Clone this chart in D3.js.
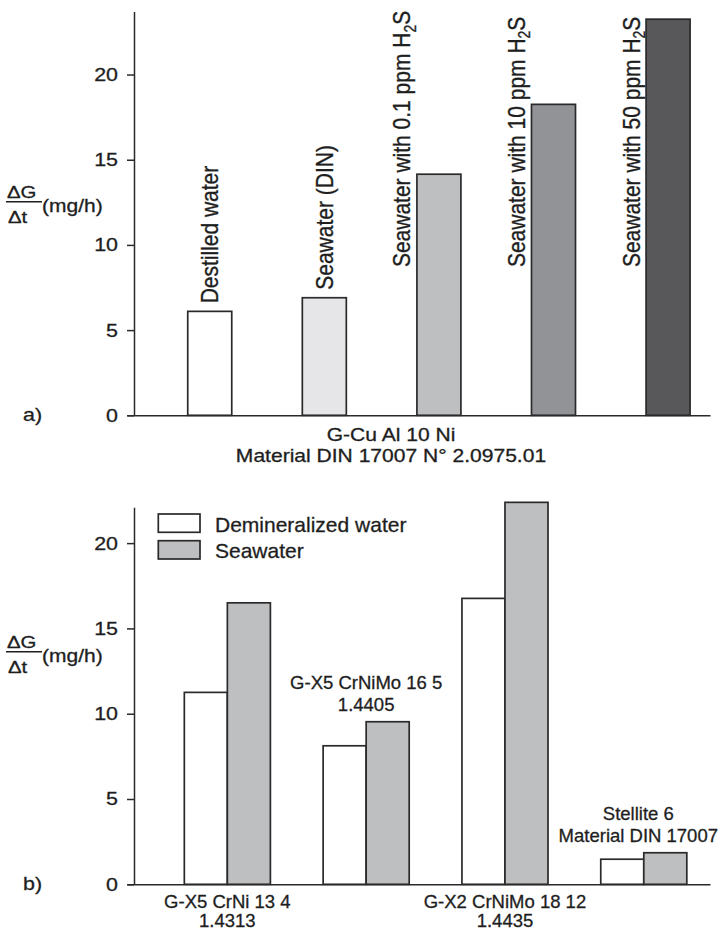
<!DOCTYPE html>
<html><head><meta charset="utf-8">
<script src="https://cdn.jsdelivr.net/npm/d3@7"></script>
<style>
body{margin:0;background:#fff}
svg{display:block}
text{font-family:"Liberation Sans",Arial,Helvetica,sans-serif;fill:#1e1e1e;stroke:#1e1e1e;stroke-width:0.3px}
</style>
</head><body>
<svg id="c" width="719" height="930"></svg>
<script>
// ---------- DATA ----------
const topCategories = ["Destilled water", "Seawater (DIN)", "Seawater with 0.1 ppm H2S", "Seawater with 10 ppm H2S", "Seawater with 50 ppm H2S"];
const topValues = [6.1, 6.9, 14.15, 18.25, 23.25];
const topColors = ["#ffffff", "#e6e6e8", "#bebfc1", "#929397", "#58585b"];
const topTicks = [0, 5, 10, 15, 20];
const topMaterial = ["G-Cu Al 10 Ni", "Material DIN 17007 N\u00B0 2.0975.01"];

const groupNames = ["G-X5 CrNi 13 4", "G-X5 CrNiMo 16 5", "G-X2 CrNiMo 18 12", "Stellite 6"];
const groupCodes = ["1.4313", "1.4405", "1.4435", "Material DIN 17007"];
const seriesNames = ["Demineralized water", "Seawater"];
const demineralized = [11.25, 8.12, 16.76, 1.47];
const seawater = [16.5, 9.53, 22.39, 1.85];
const seriesColors = ["#ffffff", "#bebfc1"];
const bottomTicks = [0, 5, 10, 15, 20];

const yLabel = ["\u0394G", "\u0394t", "(mg/h)"];
const panelLabels = ["a)", "b)"];

// ---------- HELPERS ----------
const svg = d3.select("#c");
const STRETCH = 1.16;
const ink = "#2a2a2a";

function stxt(g, x, y, str, size, anchor, sx) {
  return g.append("text")
    .attr("transform", `translate(${x},${y}) scale(${sx || STRETCH},1)`)
    .attr("text-anchor", anchor || "start")
    .style("font-size", size + "px")
    .text(str);
}

function yAxis(g, scale, ticks) {
  g.call(d3.axisLeft(scale).tickValues(ticks).tickSize(7).tickSizeOuter(0).tickPadding(9));
  g.select(".domain").attr("stroke", ink).attr("stroke-width", 1.5);
  g.selectAll(".tick line").attr("stroke", ink).attr("stroke-width", 1.5);
  g.selectAll(".tick text").each(function () {
    const t = d3.select(this);
    const x = +t.attr("x");
    t.attr("x", 0).attr("transform", `translate(${x},0) scale(${STRETCH},1)`)
      .style("font-size", "18.5px").attr("fill", "#1e1e1e");
  });
  g.attr("font-family", null).attr("font-size", null);
}

function xAxisLine(g, scale) {
  g.call(d3.axisBottom(scale).tickSize(0).tickSizeOuter(0).tickFormat(""));
  g.selectAll(".tick").remove();
  g.select(".domain").attr("stroke", ink).attr("stroke-width", 1.5);
}

function fractionLabel(fracY) {
  const g = svg.append("g");
  g.append("line").attr("x1", 6).attr("x2", 42).attr("y1", fracY).attr("y2", fracY)
    .attr("stroke", "#1e1e1e").attr("stroke-width", 1.4);
  stxt(g, 7, fracY - 3.4, yLabel[0], 17, "start", 1.2);
  stxt(g, 8, fracY + 21.5, yLabel[1], 17, "start", 1.2);
  stxt(g, 42, fracY + 10, yLabel[2], 17.5, "start", 1.2);
}

// ---------- TOP CHART ----------
const AX = 134;
const yTop = d3.scaleLinear().domain([0, 23.7]).range([415.3, 11.5]);
const xTop = d3.scaleBand().domain(topCategories).range([127, 710])
  .paddingInner(0.616).paddingOuter(0.352).align(0.753);

xAxisLine(svg.append("g").attr("transform", `translate(0,${yTop(0)})`), xTop);

svg.append("g").selectAll("rect").data(topCategories).join("rect")
  .attr("x", d => xTop(d))
  .attr("y", (d, i) => yTop(topValues[i]))
  .attr("width", xTop.bandwidth())
  .attr("height", (d, i) => yTop(0) - yTop(topValues[i]))
  .attr("fill", (d, i) => topColors[i])
  .attr("stroke", ink).attr("stroke-width", 1.7);

yAxis(svg.append("g").attr("transform", `translate(${AX},0)`), yTop, topTicks);

// rotated bar labels
topCategories.forEach((c, i) => {
  const t = svg.append("text").style("font-size", "21px");
  const m = c.match(/^(.*H)2(S)$/);
  if (m) {
    t.append("tspan").text(m[1]);
    t.append("tspan").text("2").style("font-size", "14px").attr("dy", 4.5);
    t.append("tspan").text(m[2]).attr("dy", -4.5);
  } else {
    t.text(c);
  }
  const len = t.node().getComputedTextLength();
  const top = yTop(topValues[i]);
  let bx, sy;
  if (top - 8 - len >= 0) {
    bx = xTop(c) + xTop.bandwidth() / 2 + 8.5;
    sy = top - 8;
  } else {
    bx = xTop(c) - 6.5;
    sy = yTop(8.7);
  }
  t.attr("transform", `translate(${bx},${sy}) scale(1.18,1) rotate(-90)`);
});

stxt(svg, 391, 441, topMaterial[0], 18, "middle", 1.17);
stxt(svg, 391, 461.7, topMaterial[1], 18, "middle", 1.17);
stxt(svg, 23, yTop(0) + 6, panelLabels[0], 18.5, "start");
fractionLabel(201.7);

// ---------- BOTTOM CHART ----------
const yBot = d3.scaleLinear().domain([0, 22.1]).range([884.3, 507.3]);
const xBot = d3.scaleBand().domain(groupNames).range([127, 710])
  .paddingInner(0.38).paddingOuter(0.29).align(0.712);
const xSub = d3.scaleBand().domain(seriesNames).range([0, xBot.bandwidth()]);
const seriesValues = [demineralized, seawater];

xAxisLine(svg.append("g").attr("transform", `translate(0,${yBot(0)})`), xBot);

seriesNames.forEach((s, si) => {
  svg.append("g").selectAll("rect").data(groupNames).join("rect")
    .attr("x", d => xBot(d) + xSub(s))
    .attr("y", (d, i) => yBot(seriesValues[si][i]))
    .attr("width", xSub.bandwidth())
    .attr("height", (d, i) => yBot(0) - yBot(seriesValues[si][i]))
    .attr("fill", seriesColors[si])
    .attr("stroke", ink).attr("stroke-width", 1.7);
});

yAxis(svg.append("g").attr("transform", `translate(${AX},0)`), yBot, bottomTicks);

// legend
seriesNames.forEach((s, si) => {
  const y0 = 514 + si * 26.7;
  svg.append("rect").attr("x", 158.3).attr("y", y0).attr("width", 41.7).attr("height", 18.3)
    .attr("fill", seriesColors[si]).attr("stroke", ink).attr("stroke-width", 1.7);
  svg.append("text").attr("x", 215).attr("y", y0 + 17.5).style("font-size", "21px").text(s);
});

// group labels
groupNames.forEach((g, i) => {
  let cx = xBot(g) + xBot.bandwidth() / 2;
  const t1 = svg.append("text").attr("text-anchor", "middle").style("font-size", "18.5px").text(g);
  const t2 = svg.append("text").attr("text-anchor", "middle").style("font-size", "18.5px").text(groupCodes[i]);
  const w = Math.max(t1.node().getComputedTextLength(), t2.node().getComputedTextLength());
  cx = Math.min(cx, 718 - w / 2);
  let y1, y2;
  if (i % 2 === 0) {
    y1 = yBot(0) + 24; y2 = yBot(0) + 43;
  } else {
    const top = yBot(Math.max(demineralized[i], seawater[i]));
    y2 = top - 10.5; y1 = y2 - 22;
  }
  t1.attr("x", cx).attr("y", y1);
  t2.attr("x", cx).attr("y", y2);
});

stxt(svg, 23, yBot(0) + 5.5, panelLabels[1], 18.5, "start");
fractionLabel(651.7);
</script>
</body></html>
